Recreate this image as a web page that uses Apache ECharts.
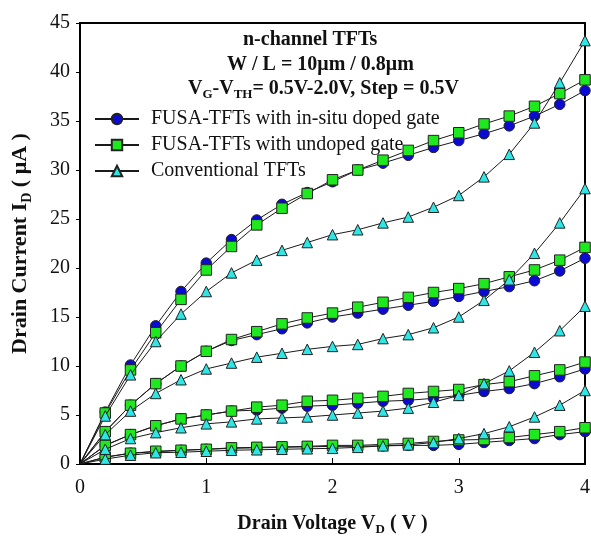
<!DOCTYPE html>
<html>
<head>
<meta charset="utf-8">
<script src="https://cdn.jsdelivr.net/npm/echarts@6/dist/echarts.min.js"></script>
<style>html,body{margin:0;padding:0;background:#fff}#c{width:591px;height:537px}</style>
</head>
<body>
<div id="c"></div>
<script>
// Drain voltage (V)
var xs = [0, 0.2, 0.4, 0.6, 0.8, 1.0, 1.2, 1.4, 1.6, 1.8, 2.0, 2.2, 2.4, 2.6, 2.8, 3.0, 3.2, 3.4, 3.6, 3.8, 4.0];
var yTicks = [0, 5, 10, 15, 20, 25, 30, 35, 40, 45];
var xTicks = [0, 1, 2, 3, 4];
var seriesNames = ['FUSA-TFTs with in-situ doped gate', 'FUSA-TFTs with undoped gate', 'Conventional TFTs'];

// Drain current (uA), VG-VTH = 2.0, 1.5, 1.0, 0.5 V
var insitu20 = [0, 5.3, 10.1, 14.1, 17.6, 20.5, 22.9, 24.9, 26.5, 27.7, 28.8, 30.0, 30.7, 31.5, 32.3, 33.0, 33.7, 34.5, 35.5, 36.7, 38.1];
var insitu15 = [0, 3.3, 6.0, 8.2, 10.0, 11.5, 12.6, 13.2, 13.8, 14.4, 15.0, 15.4, 15.8, 16.2, 16.6, 17.1, 17.6, 18.1, 18.7, 19.7, 21.0];
var insitu10 = [0, 1.9, 3.0, 3.9, 4.6, 5.0, 5.4, 5.5, 5.7, 5.9, 6.0, 6.2, 6.4, 6.5, 6.7, 7.0, 7.4, 7.7, 8.2, 8.9, 9.7];
var insitu05 = [0, 0.7, 1.1, 1.25, 1.4, 1.5, 1.6, 1.65, 1.7, 1.75, 1.8, 1.8, 1.85, 1.9, 1.9, 2.0, 2.2, 2.4, 2.6, 3.0, 3.3];

var undoped20 = [0, 5.2, 9.6, 13.4, 16.8, 19.8, 22.2, 24.4, 26.1, 27.6, 29.0, 30.0, 31.0, 32.0, 33.0, 33.8, 34.7, 35.5, 36.5, 37.8, 39.2];
var undoped15 = [0, 3.3, 6.0, 8.2, 10.0, 11.5, 12.7, 13.5, 14.3, 14.9, 15.4, 16.0, 16.5, 17.0, 17.5, 17.9, 18.4, 19.1, 19.8, 20.8, 22.1];
var undoped10 = [0, 1.9, 3.0, 3.9, 4.6, 5.0, 5.4, 5.8, 6.0, 6.4, 6.5, 6.7, 6.9, 7.2, 7.4, 7.6, 8.1, 8.4, 9.0, 9.6, 10.4];
var undoped05 = [0, 0.7, 1.1, 1.3, 1.4, 1.5, 1.65, 1.7, 1.75, 1.8, 1.9, 1.9, 2.0, 2.1, 2.3, 2.45, 2.5, 2.7, 3.0, 3.3, 3.7];

var conv20 = [0, 4.9, 9.1, 12.5, 15.3, 17.6, 19.5, 20.8, 21.8, 22.6, 23.4, 23.9, 24.6, 25.2, 26.2, 27.4, 29.3, 31.6, 34.8, 38.9, 43.2];
var conv15 = [0, 3.0, 5.4, 7.2, 8.6, 9.7, 10.3, 10.9, 11.3, 11.7, 12.0, 12.2, 12.8, 13.2, 13.9, 15.0, 16.7, 18.8, 21.5, 24.6, 28.1];
var conv10 = [0, 1.5, 2.6, 3.2, 3.7, 4.1, 4.3, 4.6, 4.7, 4.8, 5.0, 5.2, 5.4, 5.7, 6.3, 7.0, 8.2, 9.5, 11.4, 13.6, 16.1];
var conv05 = [0, 0.5, 0.9, 1.15, 1.2, 1.3, 1.4, 1.45, 1.5, 1.55, 1.6, 1.7, 1.85, 1.95, 2.2, 2.6, 3.1, 3.8, 4.8, 6.0, 7.5];

var FONT = "'Liberation Serif', 'Times New Roman', serif";
var groups = [
  {name: seriesNames[0], symbol: 'circle', color: '#0a0ad2', sets: [insitu20, insitu15, insitu10, insitu05], z: 2},
  {name: seriesNames[1], symbol: 'rect', color: '#1ee81e', sets: [undoped20, undoped15, undoped10, undoped05], z: 3},
  {name: seriesNames[2], symbol: 'triangle', color: '#2ee6e6', sets: [conv20, conv15, conv10, conv05], z: 4}
];

var series = [];
groups.forEach(function (g) {
  g.sets.forEach(function (arr) {
    series.push({
      type: 'line',
      name: g.name,
      z: g.z,
      data: xs.map(function (x, i) { return [x, arr[i]]; }),
      symbol: g.symbol,
      symbolSize: function (v, p) { return p.dataIndex === 0 ? 0 : 10.5; },
      showAllSymbol: true,
      animation: false,
      lineStyle: {color: '#1a1a1a', width: 1},
      itemStyle: {color: g.color, borderColor: '#222', borderWidth: 1},
      emphasis: {disabled: true}
    });
  });
});

var chart = echarts.init(document.getElementById('c'), null, {renderer: 'canvas'});
chart.setOption({
  backgroundColor: '#fff',
  animation: false,
  textStyle: {fontFamily: FONT},
  grid: {left: 80, right: 6, top: 23, bottom: 73, outerBoundsMode: 'none', containLabel: false,
    show: true, borderColor: '#000', borderWidth: 2, backgroundColor: 'transparent'},
  legend: {
    left: 89, top: 104, orient: 'vertical',
    itemWidth: 44, itemHeight: 13, itemGap: 6,
    data: seriesNames,
    textStyle: {fontFamily: FONT, fontSize: 20, color: '#111', padding: [0, 0, 0, 7]},
    selectedMode: false
  },
  xAxis: {
    type: 'value', min: 0, max: 4, interval: 1,
    name: 'Drain Voltage V{s|D} ( V )', nameLocation: 'middle', nameGap: 47,
    nameTextStyle: {fontFamily: FONT, fontSize: 20, fontWeight: 'bold', color: '#111',
      rich: {s: {fontFamily: FONT, fontSize: 13, fontWeight: 'bold', padding: [12, 0, 0, 0]}}},
    axisLine: {lineStyle: {color: '#000', width: 2}},
    axisTick: {inside: true, length: 6, lineStyle: {color: '#000', width: 1}},
    axisLabel: {fontFamily: FONT, fontSize: 20, color: '#111', margin: 14,
      formatter: function (v) { return xTicks.indexOf(v) >= 0 ? String(v) : ''; }},
    splitLine: {show: false}
  },
  yAxis: {
    type: 'value', min: 0, max: 45, interval: 5,
    name: 'Drain Current I{s|D} ( μA )', nameLocation: 'middle', nameGap: 46,
    nameTextStyle: {fontFamily: FONT, fontSize: 22, fontWeight: 'bold', color: '#111',
      rich: {s: {fontFamily: FONT, fontSize: 14, fontWeight: 'bold', padding: [13, 0, 0, 0]}}},
    axisLine: {lineStyle: {color: '#000', width: 2}},
    axisTick: {inside: false, length: 4, lineStyle: {color: '#000', width: 1}},
    axisLabel: {fontFamily: FONT, fontSize: 20, color: '#111', margin: 10,
      formatter: function (v) { return yTicks.indexOf(v) >= 0 ? String(v) : ''; }},
    splitLine: {show: false}
  },
  graphic: [
    {type: 'text', left: 243, top: 30, z: 100, style: {text: 'n-channel TFTs', font: 'bold 20px ' + FONT, fill: '#111'}},
    {type: 'text', left: 227, top: 55, z: 100, style: {text: 'W / L = 10μm / 0.8μm', font: 'bold 20px ' + FONT, fill: '#111'}},
    {type: 'text', left: 188, top: 79, z: 100, style: {
      text: '{b|V}{s|G}{b|-V}{s|TH}{b|= 0.5V-2.0V, Step = 0.5V}',
      font: 'bold 20px ' + FONT, fill: '#111',
      rich: {
        b: {font: 'bold 20px ' + FONT, fill: '#111'},
        s: {font: 'bold 13px ' + FONT, fill: '#111', padding: [12, 0, 0, 0]}
      }}}
  ],
  series: series
});
</script>
</body>
</html>
